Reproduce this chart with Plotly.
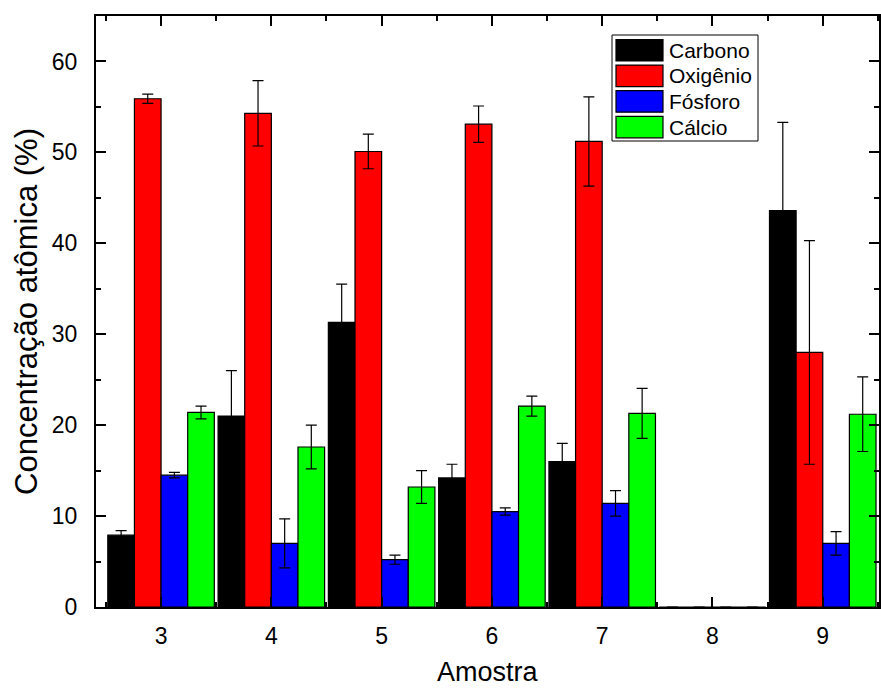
import plotly.graph_objects as go

# Samples and atomic concentrations (%) with standard deviations
amostras = [3, 4, 5, 6, 7, 8, 9]

carbono = [7.9, 21.0, 31.3, 14.2, 16.0, 0, 43.6]
carbono_err = [0.5, 5.0, 4.2, 1.5, 2.0, 0, 9.7]

oxigenio = [55.9, 54.3, 50.1, 53.1, 51.2, 0, 28.0]
oxigenio_err = [0.5, 3.6, 1.9, 2.0, 4.9, 0, 12.3]

fosforo = [14.5, 7.0, 5.2, 10.5, 11.4, 0, 7.0]
fosforo_err = [0.3, 2.7, 0.5, 0.4, 1.4, 0, 1.3]

calcio = [21.4, 17.6, 13.2, 22.1, 21.3, 0, 21.2]
calcio_err = [0.7, 2.4, 1.8, 1.1, 2.75, 0, 4.1]

series_names = ["Carbono", "Oxigênio", "Fósforo", "Cálcio"]
series_values = [carbono, oxigenio, fosforo, calcio]
series_errors = [carbono_err, oxigenio_err, fosforo_err, calcio_err]
series_colors = ["#000000", "#ff0000", "#0000ff", "#00ff00"]

FONT = "Liberation Sans, Arial, sans-serif"

fig = go.Figure()
for name, vals, errs, col in zip(series_names, series_values, series_errors, series_colors):
    fig.add_trace(go.Bar(
        x=amostras, y=vals, name=name,
        marker=dict(color=col, line=dict(color="#000000", width=1.2)),
        error_y=dict(type="data", array=errs, visible=True,
                     color="#000000", thickness=1.2, width=5.5),
        showlegend=False,
    ))

# Hand-drawn legend box with wide swatches
L, R = 96, 879
T, B = 16, 607
W, H = R - L, B - T


def px(xp):
    return (xp - L) / W


def py(yp):
    return (B - yp) / H


shapes = [dict(type="rect", xref="paper", yref="paper",
               x0=px(612), x1=px(758), y0=py(141), y1=py(35),
               line=dict(color="#000000", width=1), fillcolor="white", layer="above")]
annotations = []
row_top = 39.5
pitch = 25.6
for i, (name, col) in enumerate(zip(series_names, series_colors)):
    y0 = row_top + i * pitch
    y1 = y0 + 21.5
    shapes.append(dict(type="rect", xref="paper", yref="paper",
                       x0=px(616), x1=px(663), y0=py(y1), y1=py(y0),
                       line=dict(color="#000000", width=1.2), fillcolor=col, layer="above"))
    annotations.append(dict(xref="paper", yref="paper", x=px(667), y=py((y0 + y1) / 2),
                            text=name, showarrow=False, xanchor="left", yanchor="middle",
                            font=dict(family=FONT, size=21, color="#000000")))

# x-axis title placed below the tick labels
annotations.append(dict(xref="paper", yref="paper", x=0.5, y=py(689),
                        text="Amostra", showarrow=False, xanchor="center", yanchor="bottom",
                        font=dict(family=FONT, size=27, color="#000000")))

fig.update_layout(
    width=881, height=690,
    margin=dict(l=L, r=881 - R, t=T, b=690 - B),
    paper_bgcolor="white", plot_bgcolor="white",
    barmode="group", bargap=0.034, bargroupgap=0,
    font=dict(family=FONT, color="#000000"),
    shapes=shapes, annotations=annotations,
    showlegend=False,
)

fig.update_xaxes(
    range=[2.41, 9.51], automargin=False,
    tickmode="array", tickvals=amostras, ticktext=[str(a) for a in amostras],
    ticks="inside", ticklen=10, tickwidth=2, tickcolor="#000000",
    minor=dict(tickmode="array", tickvals=[a - 0.5 for a in amostras] + [amostras[-1] + 0.5],
               ticks="inside", ticklen=5, tickwidth=2, tickcolor="#000000"),
    showline=True, linecolor="#000000", linewidth=2, mirror="ticks",
    showgrid=False, zeroline=False,
    tickfont=dict(family=FONT, size=23), ticklabelstandoff=7,
)

fig.update_yaxes(
    range=[0, 65], dtick=10, tick0=0, automargin=False,
    ticks="inside", ticklen=10, tickwidth=2, tickcolor="#000000",
    minor=dict(dtick=5, ticks="inside", ticklen=5, tickwidth=2, tickcolor="#000000"),
    showline=True, linecolor="#000000", linewidth=2, mirror="ticks",
    showgrid=False, zeroline=False,
    tickfont=dict(family=FONT, size=23), ticklabelstandoff=12,
    title=dict(text="Concentração atômica (%)", font=dict(family=FONT, size=31), standoff=5),
)

fig.write_html("out.html")
